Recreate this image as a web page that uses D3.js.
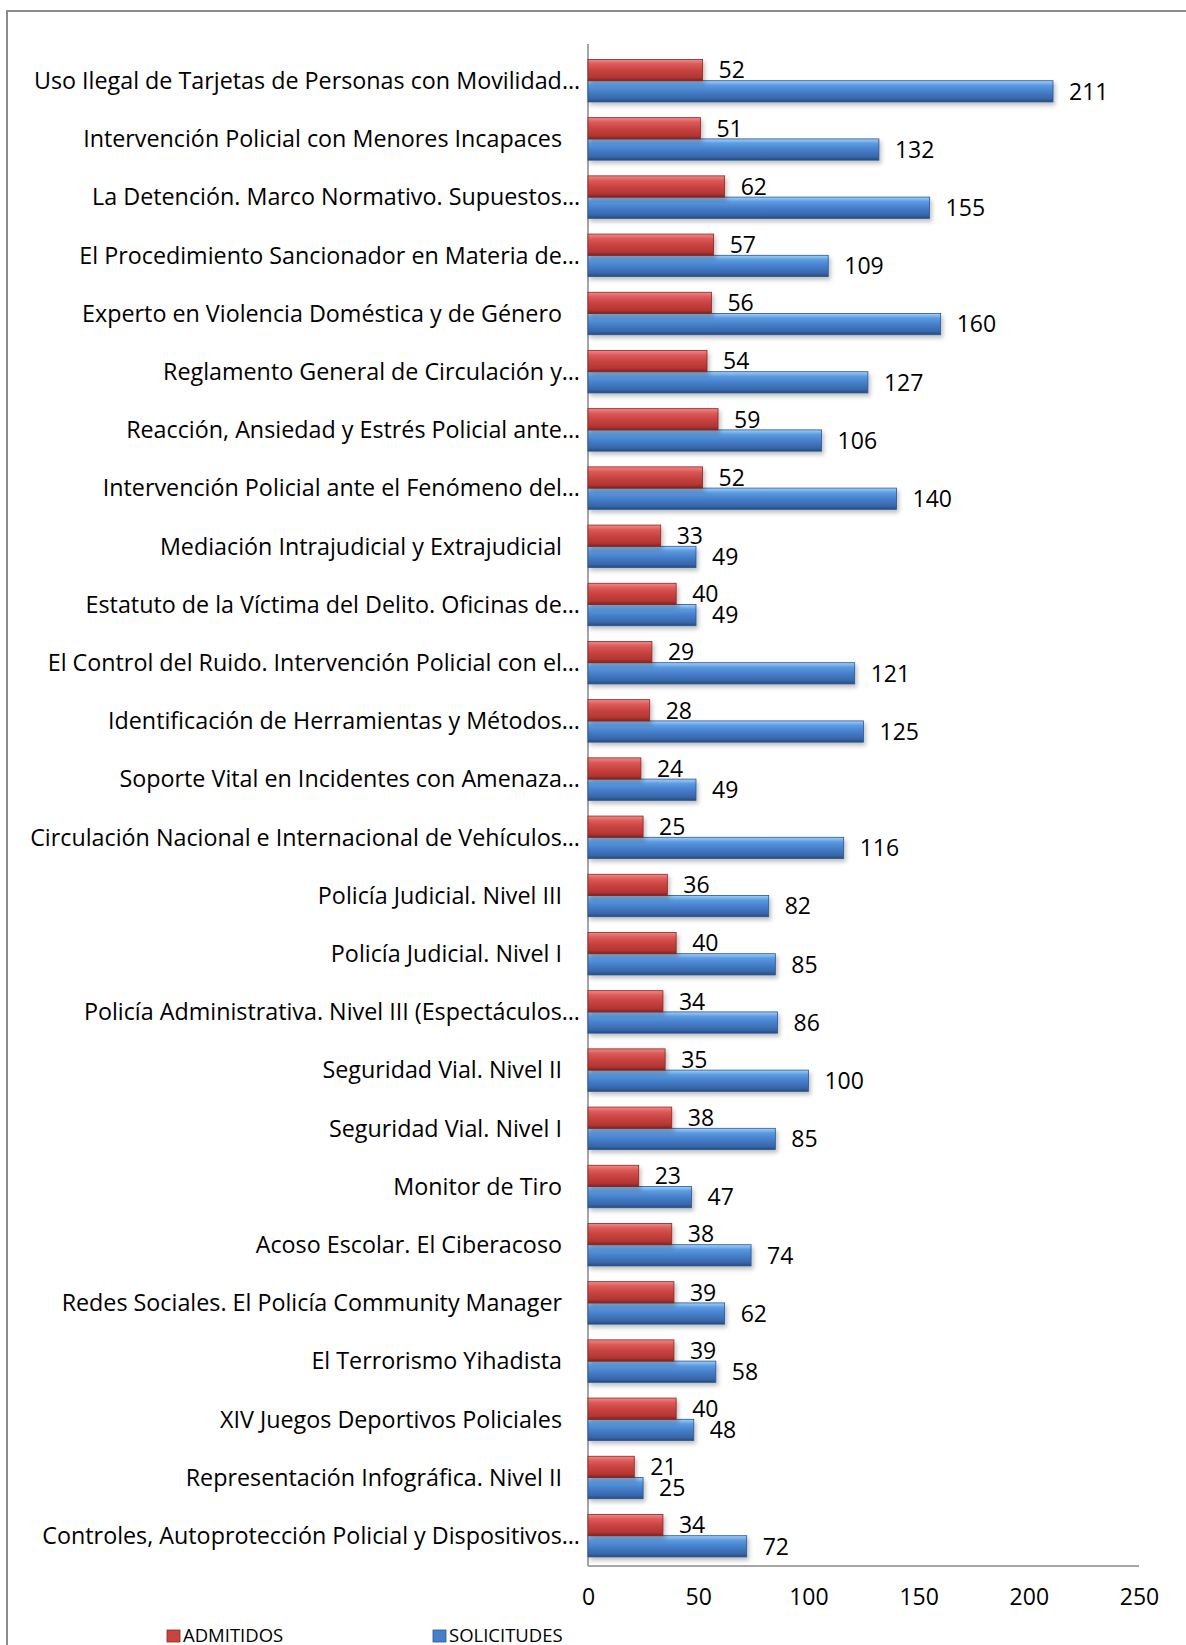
<!DOCTYPE html>
<meta charset="utf-8">
<body style="margin:0;background:#fff">
<style>
  text { font-family: "Open Sans", "Noto Sans", sans-serif; fill: #000; }
  .cat { font-size: 23.3px; }
  .val { font-size: 23px; }
  .tick text { font-size: 23px; }
  .legend text { font-size: 18.5px; }
</style>
<script src="https://d3js.org/d3.v7.min.js"></script>
<script>
// categories top to bottom, as they appear in the chart
var categories = [
  "Uso Ilegal de Tarjetas de Personas con Movilidad…",
  "Intervención Policial con Menores Incapaces",
  "La Detención. Marco Normativo. Supuestos…",
  "El Procedimiento Sancionador en Materia de…",
  "Experto en Violencia Doméstica y de Género",
  "Reglamento General de Circulación y…",
  "Reacción, Ansiedad y Estrés Policial ante…",
  "Intervención Policial ante el Fenómeno del…",
  "Mediación Intrajudicial y Extrajudicial",
  "Estatuto de la Víctima del Delito. Oficinas de…",
  "El Control del Ruido. Intervención Policial con el…",
  "Identificación de Herramientas y Métodos…",
  "Soporte Vital en Incidentes con Amenaza…",
  "Circulación Nacional e Internacional de Vehículos…",
  "Policía Judicial. Nivel III",
  "Policía Judicial. Nivel I",
  "Policía Administrativa. Nivel III (Espectáculos…",
  "Seguridad Vial. Nivel II",
  "Seguridad Vial. Nivel I",
  "Monitor de Tiro",
  "Acoso Escolar. El Ciberacoso",
  "Redes Sociales. El Policía Community Manager",
  "El Terrorismo Yihadista",
  "XIV Juegos Deportivos Policiales",
  "Representación Infográfica. Nivel II",
  "Controles, Autoprotección Policial y Dispositivos…"
];
var admitidos = [52, 51, 62, 57, 56, 54, 59, 52, 33, 40, 29, 28, 24, 25, 36, 40, 34, 35, 38, 23, 38, 39, 39, 40, 21, 34];
var solicitudes = [211, 132, 155, 109, 160, 127, 106, 140, 49, 49, 121, 125, 49, 116, 82, 85, 86, 100, 85, 47, 74, 62, 58, 48, 25, 72];
var seriesNames = ["ADMITIDOS", "SOLICITUDES"];
var xTicks = [0, 50, 100, 150, 200, 250];

var W = 1186, H = 1645;
var svg = d3.select("body").append("svg").attr("width", W).attr("height", H);

// gradients for the bevelled bars
var defs = svg.append("defs");
function grad(id, stops) {
  var g = defs.append("linearGradient").attr("id", id)
      .attr("x1", 0).attr("y1", 0).attr("x2", 0).attr("y2", 1);
  stops.forEach(function(s) { g.append("stop").attr("offset", s[0]).attr("stop-color", s[1]); });
}
grad("gRed", [[0, "#f08a8a"], [0.22, "#dc5a58"], [0.5, "#c94441"], [0.85, "#b23532"], [1, "#7e2120"]]);
grad("gBlue", [[0, "#9fd0fb"], [0.22, "#5b9ae0"], [0.5, "#4680cc"], [0.85, "#3866a8"], [1, "#234a80"]]);
var sh = defs.append("filter").attr("id", "shadow").attr("x", "-5%").attr("y", "-30%").attr("width", "115%").attr("height", "180%");
sh.append("feDropShadow").attr("dx", 2).attr("dy", 3).attr("stdDeviation", 2)
  .attr("flood-color", "#000").attr("flood-opacity", 0.25);

var colors = { ADMITIDOS: "url(#gRed)", SOLICITUDES: "url(#gBlue)" };
var strokes = { ADMITIDOS: "#8a2624", SOLICITUDES: "#2b5690" };
var legendFill = { ADMITIDOS: "#c94441", SOLICITUDES: "#4680cc" };

// outer frame (cut at right and bottom)
svg.append("path").attr("d", "M7," + H + "V11H" + W)
  .attr("fill", "none").attr("stroke", "#8c8c8c").attr("stroke-width", 2);

var x = d3.scaleLinear().domain([0, 250]).range([588, 1139]);
var y = d3.scaleBand().domain(categories).range([51.6, 1564.8])
  .paddingInner(0.27).paddingOuter(0.135);
var ySub = d3.scaleBand().domain(seriesNames).range([0, y.bandwidth()]);

// wall and floor lines
svg.append("line").attr("x1", 588).attr("x2", 588).attr("y1", 44).attr("y2", 1566)
  .attr("stroke", "#a6a6a6").attr("stroke-width", 2);
svg.append("line").attr("x1", 588).attr("x2", 1139).attr("y1", 1566).attr("y2", 1566)
  .attr("stroke", "#a6a6a6").attr("stroke-width", 2);

var rows = categories.map(function(c, i) {
  return { cat: c, vals: [
    { s: "SOLICITUDES", v: solicitudes[i] },
    { s: "ADMITIDOS", v: admitidos[i] }
  ]};
});

var g = svg.selectAll("g.row").data(rows).enter().append("g")
  .attr("class", "row")
  .attr("transform", function(d) { return "translate(0," + y(d.cat) + ")"; });

g.selectAll("rect").data(function(d) { return d.vals; }).enter().append("rect")
  .attr("x", x(0))
  .attr("y", function(d) { return ySub(d.s); })
  .attr("width", function(d) { return x(d.v) - x(0); })
  .attr("height", ySub.bandwidth())
  .attr("fill", function(d) { return colors[d.s]; })
  .attr("stroke", function(d) { return strokes[d.s]; })
  .attr("stroke-width", 0.8)
  .attr("filter", "url(#shadow)");

g.selectAll("text.val").data(function(d) { return d.vals; }).enter().append("text")
  .attr("class", "val")
  .attr("x", function(d) { return x(d.v) + 16; })
  .attr("y", function(d) { return ySub(d.s) + ySub.bandwidth() / 2; })
  .attr("dy", "0.36em")
  .text(function(d) { return d.v; });

// category labels; truncated ones hang a little further right
svg.selectAll("text.cat").data(categories).enter().append("text")
  .attr("class", "cat")
  .attr("text-anchor", "end")
  .attr("x", function(d) { return d.slice(-1) === "…" ? 580 : 562; })
  .attr("y", function(d) { return y(d) + y.bandwidth() / 2; })
  .attr("dy", "0.36em")
  .text(function(d) { return d; });

// x axis labels
var ax = svg.append("g").attr("transform", "translate(0,1566)")
  .call(d3.axisBottom(x).tickValues(xTicks).tickSize(0).tickPadding(23));
ax.select(".domain").remove();
ax.selectAll("text").attr("font-family", null).attr("font-size", null);

// legend
var lg = svg.append("g").attr("class", "legend");
var legendX = [167, 433];
seriesNames.forEach(function(s, i) {
  lg.append("rect").attr("x", legendX[i]).attr("y", 1630).attr("width", 13).attr("height", 12)
    .attr("fill", legendFill[s]).attr("stroke", strokes[s]).attr("stroke-width", 0.8);
  lg.append("text").attr("x", legendX[i] + 16).attr("y", 1642).text(s);
});
</script>
